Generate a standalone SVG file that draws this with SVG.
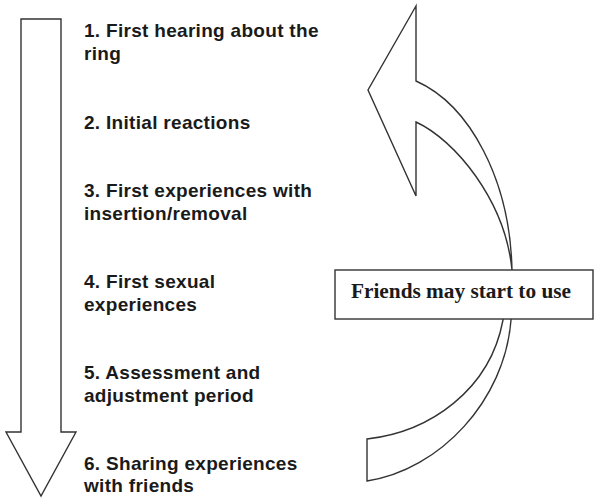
<svg xmlns="http://www.w3.org/2000/svg" width="600" height="502" viewBox="0 0 600 502">
<style>
.shape{fill:#fff;stroke:#333;stroke-width:1.4;stroke-linejoin:miter}
.step{font-family:"Liberation Sans",Arial,sans-serif;font-weight:bold;font-size:19px;letter-spacing:0.3px;fill:#1a1a1a}
.box-text{font-family:"Liberation Serif","Times New Roman",serif;font-weight:bold;font-size:21.3px;fill:#1a1a1a}
</style>
<rect width="600" height="502" fill="#fff"/>
<g id="connectors">
<path id="down-arrow" class="shape" d="M21,19 L61,19 L61,432 L76,432 L41,496 L6,432 L21,432 Z"/>
<path id="curve-upper" class="shape" d="M416,6 L368,90 L416,196 L416,122 C455,140 505,200 512,270 C510,180 470,105 416,81 Z"/>
<path id="curve-lower" class="shape" d="M511,290 L511,320 C505,400 440,470 367,481 L367,439 C430,432 490,390 503,320 L503,290 Z"/>
</g>
<g id="step1"><text class="step" x="84" y="37">1. First hearing about the</text><text class="step" x="84" y="60">ring</text></g>
<g id="step2"><text class="step" x="84" y="129">2. Initial reactions</text></g>
<g id="step3"><text class="step" x="84" y="197">3. First experiences with</text><text class="step" x="84" y="220">insertion/removal</text></g>
<g id="step4"><text class="step" x="84" y="288">4. First sexual</text><text class="step" x="84" y="311">experiences</text></g>
<g id="step5"><text class="step" x="84" y="379">5. Assessment and</text><text class="step" x="84" y="402">adjustment period</text></g>
<g id="step6"><text class="step" x="84" y="470">6. Sharing experiences</text><text class="step" x="84" y="492">with friends</text></g>
<g id="friends-box">
<rect class="shape" x="335" y="270" width="258" height="49"/>
<text class="box-text" x="461" y="298" text-anchor="middle">Friends may start to use</text>
</g>
</svg>
